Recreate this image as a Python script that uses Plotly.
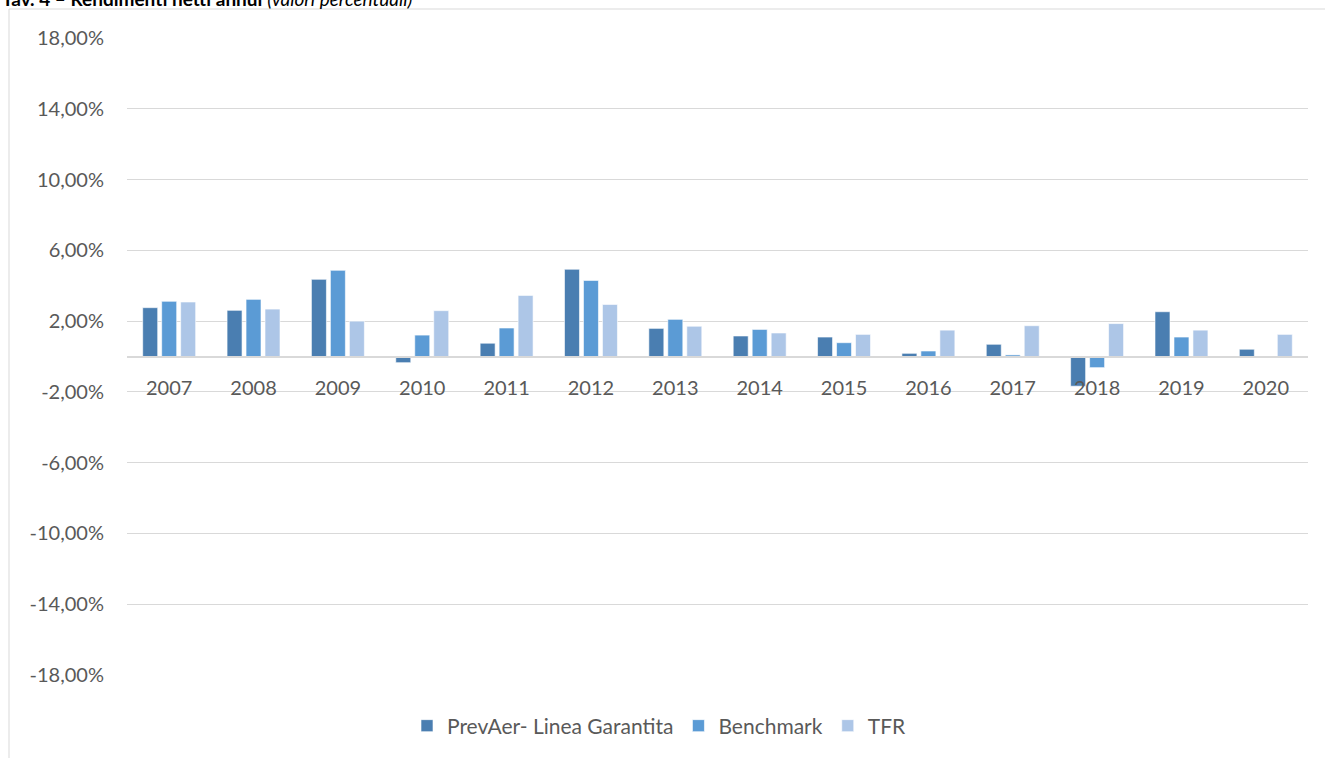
import plotly.graph_objects as go

years = ["2007", "2008", "2009", "2010", "2011", "2012", "2013",
         "2014", "2015", "2016", "2017", "2018", "2019", "2020"]
prevaer = [2.76, 2.61, 4.36, -0.35, 0.75, 4.93, 1.59, 1.16, 1.10, 0.18, 0.69, -1.68, 2.53, 0.41]
benchmark = [3.12, 3.23, 4.87, 1.21, 1.61, 4.30, 2.10, 1.53, 0.78, 0.31, 0.09, -0.63, 1.10, 0.0]
tfr = [3.08, 2.68, 2.00, 2.59, 3.45, 2.94, 1.71, 1.33, 1.25, 1.49, 1.74, 1.86, 1.49, 1.25]

ytick_vals = [18, 14, 10, 6, 2, -2, -6, -10, -14, -18]
ytick_text = ["18,00%", "14,00%", "10,00%", "6,00%", "2,00%", "-2,00%",
              "-6,00%", "-10,00%", "-14,00%", "-18,00%"]

series = [
    ("PrevAer- Linea Garantita", prevaer, "#4A7EB1"),
    ("Benchmark", benchmark, "#5B9BD5"),
    ("TFR", tfr, "#ADC6E7"),
]

FONT = "Lato"
fig = go.Figure()
for name, vals, col in series:
    fig.add_trace(go.Bar(
        x=years, y=vals, name=name,
        marker=dict(color=col, line=dict(color="rgba(255,255,255,0.6)", width=1)),
    ))

L, R, T, B = 127, 17, 38, 83
W, H = 1325, 758
pw, ph = W - L - R, H - T - B

def px_x(p):
    return (p - L) / pw

def px_y(p):
    return (H - B - p) / ph

fig.update_layout(
    width=W, height=H,
    margin=dict(l=L, r=R, t=T, b=B),
    paper_bgcolor="white", plot_bgcolor="white",
    barmode="group", bargap=0.325, bargroupgap=0.21,
    font=dict(family=FONT, color="#595959"),
    xaxis=dict(
        anchor="free", position=0.5,
        showline=True, linecolor="#D9D9D9", linewidth=1.5,
        showgrid=False, ticks="", ticklabelstandoff=14,
        tickfont=dict(size=20, color="#595959", family=FONT),
    ),
    yaxis=dict(
        range=[-18, 18], tickvals=ytick_vals, ticktext=ytick_text,
        showgrid=True, gridcolor="#D9D9D9", gridwidth=1,
        zeroline=False, showline=False, ticks="", ticklabelstandoff=22,
        tickfont=dict(size=20, color="#595959", family=FONT),
    ),
    legend=dict(
        orientation="h", x=px_x(659.5), xanchor="center",
        y=px_y(726), yanchor="middle",
        font=dict(size=21, color="#595959", family=FONT),
        itemwidth=30, tracegroupgap=0,
    ),
    showlegend=True,
)

fig.add_shape(type="rect", xref="paper", yref="paper",
              x0=px_x(9), x1=px_x(1340), y0=px_y(780), y1=px_y(9),
              line=dict(color="#D9D9D9", width=1), fillcolor="rgba(0,0,0,0)",
              layer="below")

fig.add_annotation(
    xref="paper", yref="paper", x=px_x(0), y=px_y(-1),
    xanchor="left", yanchor="middle", showarrow=False,
    text="<b>Tav. 4 – Rendimenti netti annui</b> <i>(valori percentuali)</i>",
    font=dict(size=19, color="black", family=FONT),
)

fig.write_html("out.html", config={"displayModeBar": False},
               post_script="document.body.style.margin='0';")
